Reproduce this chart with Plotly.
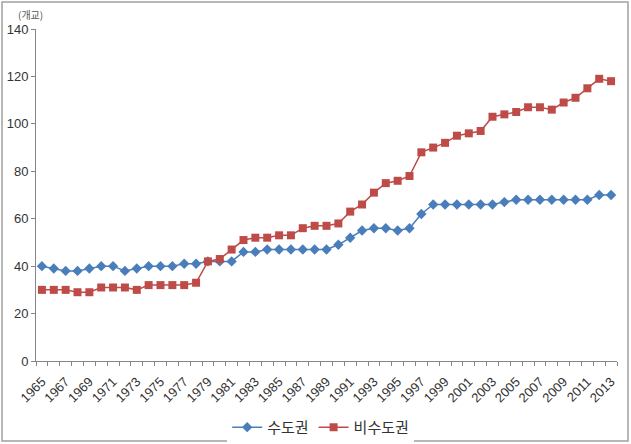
import plotly.graph_objects as go

years = list(range(1965, 2014))
sudogwon = [40, 39, 38, 38, 39, 40, 40, 38, 39, 40, 40, 40, 41, 41, 42, 42, 42, 46, 46, 47,
            47, 47, 47, 47, 47, 49, 52, 55, 56, 56, 55, 56, 62, 66, 66, 66, 66, 66, 66, 67,
            68, 68, 68, 68, 68, 68, 68, 70, 70]
bisudogwon = [30, 30, 30, 29, 29, 31, 31, 31, 30, 32, 32, 32, 32, 33, 42, 43, 47, 51, 52, 52,
              53, 53, 56, 57, 57, 58, 63, 66, 71, 75, 76, 78, 88, 90, 92, 95, 96, 97, 103, 104,
              105, 107, 107, 106, 109, 111, 115, 119, 118]
label_years = [y for y in years if (y - 1965) % 2 == 0]

FONT = "Liberation Sans, Arial, Noto Sans CJK KR, sans-serif"

fig = go.Figure()
fig.add_trace(go.Scatter(x=years, y=sudogwon, name="수도권", mode="lines+markers",
                         line=dict(color="#4A7EBB", width=1.5),
                         marker=dict(symbol="diamond", size=8, color="#4A7EBB")))
fig.add_trace(go.Scatter(x=years, y=bisudogwon, name="비수도권", mode="lines+markers",
                         line=dict(color="#BE4B48", width=1.5),
                         marker=dict(symbol="square", size=8, color="#BE4B48")))

fig.update_layout(
    width=631, height=444,
    margin=dict(l=36, r=14, t=29, b=83, autoexpand=False),
    paper_bgcolor="white", plot_bgcolor="white",
    font=dict(family=FONT, color="#333333"),
    showlegend=True,
    legend=dict(orientation="h", x=0.49, xanchor="center", y=-0.2, yanchor="middle",
                font=dict(size=15, color="#333333", family="Noto Sans CJK KR, sans-serif")),
    xaxis=dict(range=[1964.5, 2013.5], tickmode="array", tickvals=label_years,
               ticktext=[str(y) for y in label_years], tickangle=-45, automargin=False,
               ticks="", ticklabelstandoff=7, showline=True, linecolor="#868686", linewidth=1,
               showgrid=False, zeroline=False, tickfont=dict(size=13, color="#333333"),
               minor=dict(tickmode="linear", tick0=1964.5, dtick=1, ticks="outside",
                          ticklen=4, tickcolor="#868686", showgrid=False)),
    yaxis=dict(range=[0, 140], dtick=20, ticks="outside", ticklen=4, tickcolor="#868686",
               showline=True, linecolor="#868686", linewidth=1, showgrid=False,
               automargin=False, zeroline=False, tickfont=dict(size=13, color="#333333")),
)
fig.add_annotation(text="(개교)", xref="paper", yref="paper", x=-0.035, y=1.016,
                   xanchor="left", yanchor="bottom", showarrow=False,
                   font=dict(size=10, color="#555555", family="Noto Sans CJK KR, sans-serif"))
fig.add_shape(type="rect", xref="paper", yref="paper", x0=-0.0585, x1=1.0189,
              y0=-0.241, y1=1.0813, line=dict(color="#A0A0A0", width=1.5))
fig.write_html("out.html", post_script="document.body.style.margin='0';",
               config={"displayModeBar": False})
